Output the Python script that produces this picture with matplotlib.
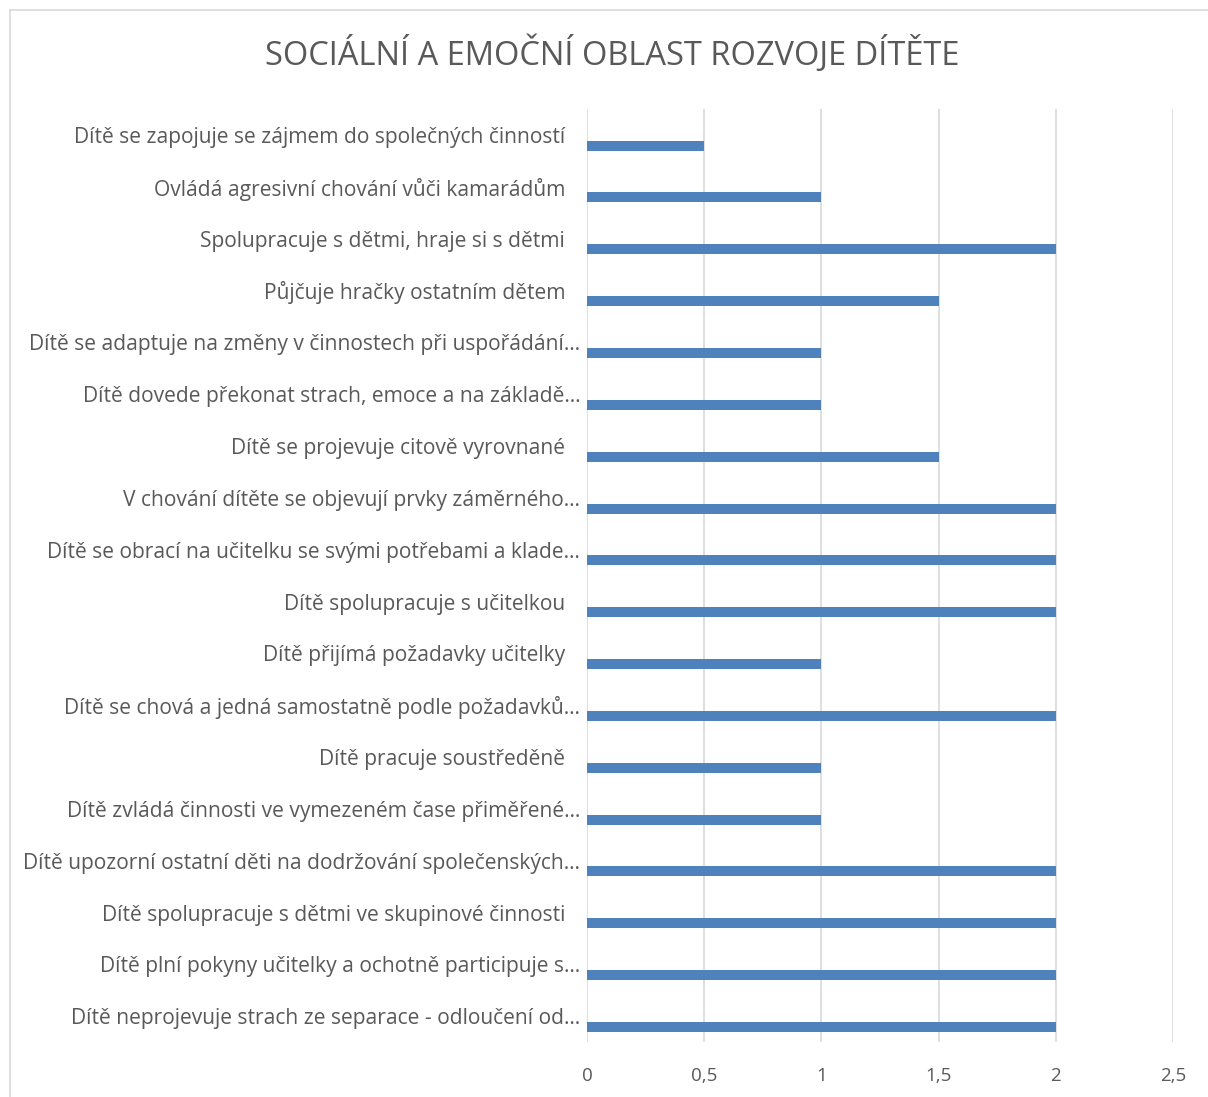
import matplotlib.pyplot as plt
from matplotlib.lines import Line2D
from matplotlib.transforms import ScaledTranslation

plt.rcParams['font.family'] = ['Open Sans', 'DejaVu Sans']

# Data (top to bottom as shown)
labels = [
    "Dítě se zapojuje se zájmem do společných činností",
    "Ovládá agresivní chování vůči kamarádům",
    "Spolupracuje s dětmi, hraje si s dětmi",
    "Půjčuje hračky ostatním dětem",
    "Dítě se adaptuje na změny v činnostech při uspořádání…",
    "Dítě dovede překonat strach, emoce a na základě…",
    "Dítě se projevuje citově vyrovnané",
    "V chování dítěte se objevují prvky záměrného…",
    "Dítě se obrací na učitelku se svými potřebami a klade…",
    "Dítě spolupracuje s učitelkou",
    "Dítě přijímá požadavky učitelky",
    "Dítě se chová a jedná samostatně podle požadavků…",
    "Dítě pracuje soustředěně",
    "Dítě zvládá činnosti ve vymezeném čase přiměřené…",
    "Dítě upozorní ostatní děti na dodržování společenských…",
    "Dítě spolupracuje s dětmi ve skupinové činnosti",
    "Dítě plní pokyny učitelky a ochotně participuje s…",
    "Dítě neprojevuje strach ze separace - odloučení od…",
]
values = [0.5, 1, 2, 1.5, 1, 1, 1.5, 2, 2, 2, 1, 2, 1, 1, 2, 2, 2, 2]
xticks = [0, 0.5, 1, 1.5, 2, 2.5]
xtick_labels = ["0", "0,5", "1", "1,5", "2", "2,5"]

text_col = "#595959"
bar_col = "#4F81BD"
grid_col = "#D9D9D9"

fig = plt.figure(figsize=(12.08, 10.97), dpi=100)
ax = fig.add_axes([0.486, 0.050, 0.485, 0.8506])

pos = list(range(len(labels)))
# bars sit in the lower part of each category slot, like the Excel original
ax.barh([p + 0.206 for p in pos], values, height=0.193, color=bar_col, zorder=3)

ax.set_ylim(len(labels) - 0.5, -0.5)
ax.set_yticks(pos)
ax.set_yticklabels(labels, fontsize=15.1, color=text_col)
ax.set_xlim(0, 2.5)
ax.set_xticks(xticks)
ax.set_xticklabels(xtick_labels, fontsize=13.5, color=text_col)
ax.tick_params(axis="both", length=0)
ax.tick_params(axis="x", pad=18)
ax.tick_params(axis="y", pad=5)

# full (untruncated) labels end a bit further left, as in the original
shift = ScaledTranslation(-0.15, 0, fig.dpi_scale_trans)
for t in ax.get_yticklabels():
    if not t.get_text().endswith("…"):
        t.set_transform(t.get_transform() + shift)

ax.grid(axis="x", color=grid_col, linewidth=1.2, zorder=0)
for s in ax.spines.values():
    s.set_visible(False)

fig.text(0.5066, 0.951, "SOCIÁLNÍ A EMOČNÍ OBLAST ROZVOJE DÍTĚTE",
         ha="center", va="center", fontsize=23.5, color=text_col)

# outer chart frame (cut off at right and bottom)
fig.add_artist(Line2D([10 / 1208, 10 / 1208], [0, 1 - 10 / 1097],
                      transform=fig.transFigure, color=grid_col, linewidth=1.2))
fig.add_artist(Line2D([10 / 1208, 1], [1 - 10 / 1097, 1 - 10 / 1097],
                      transform=fig.transFigure, color=grid_col, linewidth=1.2))

fig.savefig("out.png", dpi=100)
